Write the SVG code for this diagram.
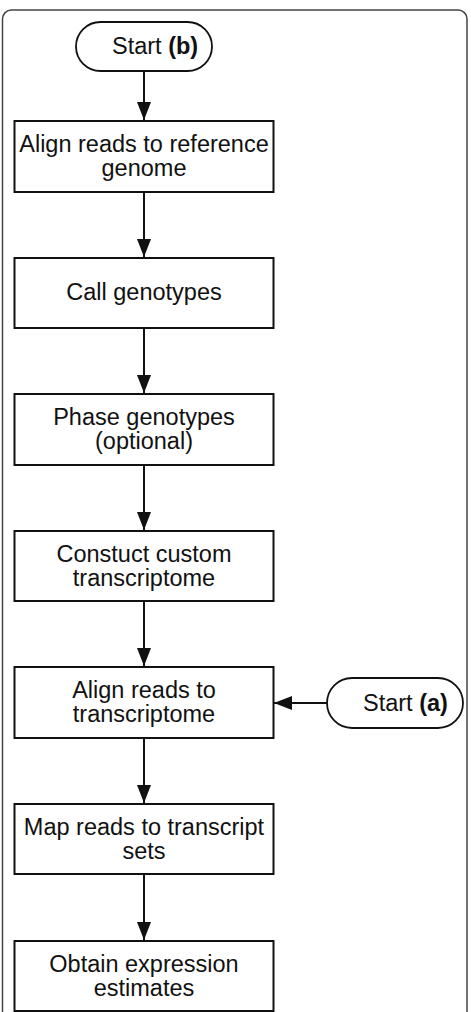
<svg xmlns="http://www.w3.org/2000/svg" width="471" height="1012" viewBox="0 0 471 1012">
<defs>
<style>
.box{fill:#fff;stroke:#111;stroke-width:2}
.pill{fill:#fff;stroke:#111;stroke-width:1.8}
.t{font-family:"Liberation Sans",Arial,sans-serif;font-size:23.5px;fill:#111}
.c{text-anchor:middle}
.b{font-weight:bold}
.edge{stroke:#111;stroke-width:2;fill:none}
</style>
<marker id="ah" markerWidth="18" markerHeight="14" viewBox="0 0 18 14" refX="18" refY="7" markerUnits="userSpaceOnUse" orient="auto">
<path d="M0,0 L18,7 L0,14 Z" fill="#111"/>
</marker>
</defs>
<rect x="2.5" y="10" width="464.5" height="1030" rx="9" fill="#fff" stroke="#444" stroke-width="1.5"/>
<g id="connectors">
<line class="edge" x1="144" y1="71" x2="144" y2="120" marker-end="url(#ah)"/>
<line class="edge" x1="144" y1="192" x2="144" y2="257" marker-end="url(#ah)"/>
<line class="edge" x1="144" y1="328" x2="144" y2="393" marker-end="url(#ah)"/>
<line class="edge" x1="144" y1="465" x2="144" y2="530" marker-end="url(#ah)"/>
<line class="edge" x1="144" y1="601" x2="144" y2="666" marker-end="url(#ah)"/>
<line class="edge" x1="144" y1="738" x2="144" y2="803" marker-end="url(#ah)"/>
<line class="edge" x1="144" y1="874" x2="144" y2="940" marker-end="url(#ah)"/>
<line class="edge" x1="327" y1="703" x2="274" y2="703" marker-end="url(#ah)"/>
</g>
<g id="startb">
<rect class="pill" x="76" y="22" width="136" height="49" rx="24.5"/>
<text class="t" x="112" y="54">Start <tspan class="b">(b)</tspan></text>
</g>
<g id="n1">
<rect class="box" x="14.5" y="121" width="259" height="71"/>
<text class="t c" x="144" y="152">Align reads to reference</text>
<text class="t c" x="144" y="176">genome</text>
</g>
<g id="n2">
<rect class="box" x="14.5" y="258" width="259" height="70"/>
<text class="t c" x="144" y="300">Call genotypes</text>
</g>
<g id="n3">
<rect class="box" x="14.5" y="394" width="259" height="71"/>
<text class="t c" x="144" y="425">Phase genotypes</text>
<text class="t c" x="144" y="449">(optional)</text>
</g>
<g id="n4">
<rect class="box" x="14.5" y="531" width="259" height="70"/>
<text class="t c" x="144" y="562">Constuct custom</text>
<text class="t c" x="144" y="586">transcriptome</text>
</g>
<g id="n5">
<rect class="box" x="14.5" y="667" width="259" height="71"/>
<text class="t c" x="144" y="698">Align reads to</text>
<text class="t c" x="144" y="722">transcriptome</text>
</g>
<g id="starta">
<rect class="pill" x="327" y="678" width="136" height="50" rx="25"/>
<text class="t" x="363" y="711">Start <tspan class="b">(a)</tspan></text>
</g>
<g id="n6">
<rect class="box" x="14.5" y="804" width="259" height="70"/>
<text class="t c" x="144" y="835">Map reads to transcript</text>
<text class="t c" x="144" y="859">sets</text>
</g>
<g id="n7">
<rect class="box" x="14.5" y="941" width="259" height="70"/>
<text class="t c" x="144" y="972">Obtain expression</text>
<text class="t c" x="144" y="996">estimates</text>
</g>
</svg>
